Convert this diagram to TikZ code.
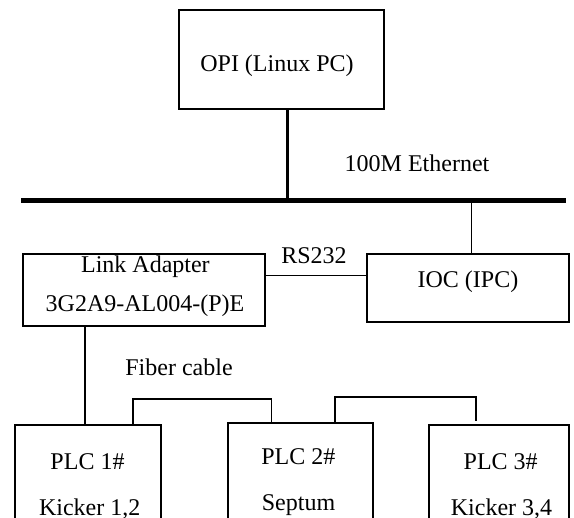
\documentclass[tikz,border=0pt]{standalone}
\usepackage{fontspec}
\setmainfont{Liberation Serif}

\begin{document}
\begin{tikzpicture}[x=0.5pt,y=-0.5pt,
    box/.style={draw,rectangle,inner sep=0pt,line width=0.6pt},
    lbl/.style={anchor=base,inner sep=0pt,font=\fontsize{12}{14}\selectfont},
    wire/.style={line width=0.6pt}]

  \clip (0,0) rectangle (574,518);

  % boxes
  \node[box,minimum width=102.5pt,minimum height=49.5pt] (opi) at (281.5,59.5) {};
  \node[box,minimum width=121pt,minimum height=36pt] (adapter) at (144,290) {};
  \node[box,minimum width=101pt,minimum height=34pt] (ioc) at (468,288) {};
  \node[box,minimum width=73pt,minimum height=67.5pt] (plc1) at (88,492.5) {};
  \node[box,minimum width=72.5pt,minimum height=68.5pt] (plc2) at (300.5,491.5) {};
  \node[box,minimum width=70pt,minimum height=67.5pt] (plc3) at (499,492.5) {};

  % texts
  \node[lbl] (opitext) at (277,71.4) {OPI (Linux PC)};
  \node[lbl] (ethtext) at (417,172) {100M Ethernet};
  \node[lbl] (rstext) at (314,263.5) {RS232};
  \node[lbl] (adaptertext) at (145.4,272.7) {Link Adapter};
  \node[lbl] (adaptertype) at (145,312) {3G2A9-AL004-(P)E};
  \node[lbl] (ioctext) at (468,287.7) {IOC (IPC)};
  \node[lbl] (fibertext) at (179,376) {Fiber cable};
  \node[lbl] (plc1name) at (87.5,469.6) {PLC 1\#};
  \node[lbl] (plc1dev) at (89.7,515.4) {Kicker 1,2};
  \node[lbl] (plc2name) at (298.3,464.9) {PLC 2\#};
  \node[lbl] (plc2dev) at (298.5,510.5) {Septum};
  \node[lbl] (plc3name) at (500.7,469.6) {PLC 3\#};
  \node[lbl] (plc3dev) at (501.5,515.4) {Kicker 3,4};

  % ethernet bus
  \coordinate (busL) at (21,200.5);
  \coordinate (busR) at (566,200.5);
  \coordinate (tapopi) at (287,200.5);
  \coordinate (tapioc) at (471.5,200.5);
  \draw[line width=2.2pt] (busL) -- (busR);
  \draw[line width=1.5pt] (tapopi |- opi.south) -- (tapopi);
  \draw[wire] (tapioc) -- (tapioc |- ioc.north);

  % RS232
  \coordinate (rs) at (0,275.6);
  \draw[wire] (adapter.east |- rs) -- (ioc.west |- rs);

  % fiber cable
  \coordinate (drop) at (85,0);
  \draw[wire] (drop |- adapter.south) -- (drop |- plc1.north);
  \coordinate (link1) at (133,399);
  \coordinate (link2) at (271.6,399);
  \coordinate (link3) at (335,397);
  \coordinate (link4) at (476,397);
  \coordinate (loose) at (476,421);
  \draw[wire] (link1 |- plc1.north) -- (link1) -- (link2) -- (link2 |- plc2.north);
  \draw[wire] (link3 |- plc2.north) -- (link3) -- (link4) -- (loose);

\end{tikzpicture}
\end{document}
